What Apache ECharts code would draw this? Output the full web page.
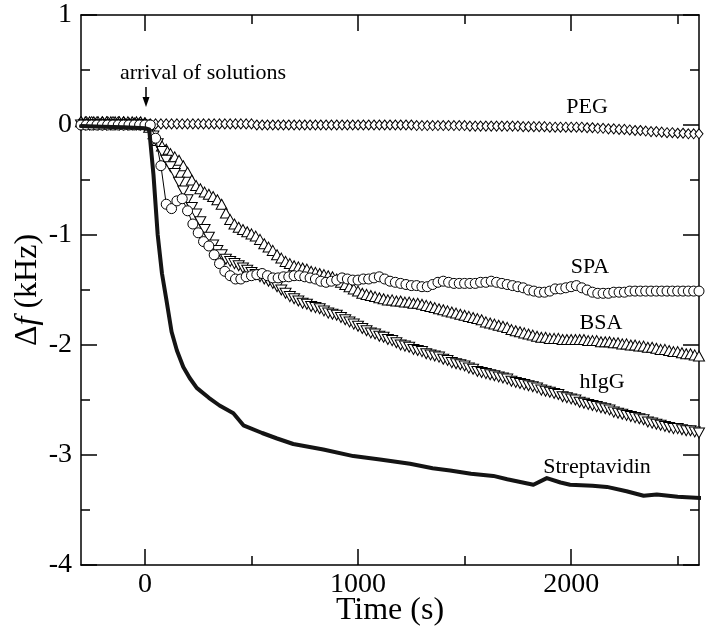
<!DOCTYPE html>
<html><head><meta charset="utf-8">
<script src="https://cdn.jsdelivr.net/npm/echarts@6/dist/echarts.min.js"></script>
<style>html,body{margin:0;padding:0;background:#fff}#c{width:708px;height:630px}</style>
</head><body><div id="c"></div>
<script>
// ---- data ----
const xMajorTicks = [0, 1000, 2000];
const xMinorTicks = [500, 1500, 2500];

// PEG (diamonds), sampled every 25 s from -300 s
const pegStart = -300, pegStep = 25;
const pegValues = [
  0.03,0.03,0.03,0.03,0.03,0.03,0.03,0.03,0.03,0.02,0.02,0.02,0.02,
  0.01,0.01,0.01,0.01,0.01,0.01,0.01,0.01,0.01,0.01,0.01,0.01,0.01,0.01,0.01,0.01,0.01,0.01,0.01,0.01,
  0.0,0.0,0.0,0.0,0.0,0.0,0.0,0.0,0.0,0.0,0.0,0.0,0.0,0.0,0.0,0.0,0.0,0.0,0.0,0.0,
  0.0,0.0,0.0,0.0,0.0,0.0,0.0,0.0,0.0,0.0,-0.005,-0.005,-0.005,-0.005,-0.005,-0.005,-0.005,-0.005,-0.005,-0.005,
  -0.01,-0.01,-0.01,-0.01,-0.01,-0.01,-0.01,-0.01,-0.01,-0.01,-0.015,-0.015,-0.015,-0.015,-0.015,-0.02,-0.02,-0.02,-0.02,-0.02,
  -0.02,-0.02,-0.025,-0.025,-0.03,-0.03,-0.035,-0.035,-0.04,-0.04,-0.045,-0.05,-0.05,-0.055,-0.06,-0.06,-0.065,-0.07,-0.07,-0.075,
  -0.075,-0.08,-0.08,-0.08
];

// SPA (circles), sampled every 25 s from -300 s
const spaStart = -300, spaStep = 25;
const spaValues = [
  0.0,0.0,0.0,0.0,0.0,0.0,0.0,0.0,0.0,0.0,0.0,0.0,0.0,
  0.0,-0.12,-0.37,-0.72,
  -0.76,-0.69,-0.67,-0.78,
  -0.90,-0.98,-1.06,-1.10,
  -1.18,-1.26,-1.33,-1.37,
  -1.40,-1.40,-1.38,-1.37,
  -1.36,-1.35,-1.37,-1.39,
  -1.39,-1.38,-1.38,-1.37,
  -1.37,-1.38,-1.39,-1.40,
  -1.42,-1.43,-1.42,-1.41,
  -1.39,-1.40,-1.41,-1.41,
  -1.40,-1.40,-1.39,-1.38,
  -1.40,-1.42,-1.43,-1.44,
  -1.45,-1.46,-1.46,-1.47,
  -1.47,-1.45,-1.43,-1.42,
  -1.43,-1.44,-1.44,-1.44,
  -1.44,-1.44,-1.43,-1.43,
  -1.42,-1.43,-1.44,-1.45,
  -1.46,-1.47,-1.48,-1.50,
  -1.51,-1.52,-1.52,-1.51,
  -1.49,-1.49,-1.48,-1.47,
  -1.46,-1.48,-1.50,-1.52,
  -1.53,-1.53,-1.53,-1.52,
  -1.52,-1.52,-1.51,-1.51,
  -1.51,-1.51,-1.51,-1.51,
  -1.51,-1.51,-1.51,-1.51,
  -1.51,-1.51,-1.51,-1.51
];

// BSA (up triangles), sampled every 20 s from -300 s
const bsaStart = -300, bsaStep = 20;
const bsaValues = [
  0.03,0.03,0.03,0.03,0.03,0.03,0.03,0.03,0.03,0.03,0.03,0.03,0.03,0.03,0.03,0.02,
  -0.02,-0.08,-0.14,-0.19,-0.22,
  -0.26,-0.29,-0.32,-0.37,-0.43,
  -0.50,-0.55,-0.58,-0.61,-0.63,
  -0.65,-0.68,-0.72,-0.80,-0.86,
  -0.90,-0.93,-0.95,-0.97,-0.99,
  -1.01,-1.04,-1.08,-1.11,-1.14,
  -1.18,-1.21,-1.24,-1.26,-1.28,
  -1.29,-1.30,-1.31,-1.33,-1.34,
  -1.35,-1.36,-1.37,-1.38,-1.40,
  -1.43,-1.45,-1.47,-1.49,-1.51,
  -1.53,-1.54,-1.55,-1.56,-1.57,
  -1.58,-1.59,-1.59,-1.60,-1.60,
  -1.61,-1.61,-1.62,-1.62,-1.63,
  -1.64,-1.65,-1.66,-1.67,-1.68,
  -1.69,-1.70,-1.71,-1.72,-1.73,
  -1.74,-1.75,-1.76,-1.77,-1.79,
  -1.80,-1.81,-1.82,-1.83,-1.84,
  -1.86,-1.87,-1.88,-1.89,-1.90,
  -1.91,-1.92,-1.93,-1.93,-1.94,
  -1.94,-1.94,-1.95,-1.95,-1.95,
  -1.95,-1.95,-1.95,-1.96,-1.96,
  -1.96,-1.97,-1.97,-1.97,-1.98,
  -1.98,-1.99,-1.99,-2.00,-2.00,
  -2.01,-2.01,-2.02,-2.02,-2.03,
  -2.04,-2.04,-2.05,-2.06,-2.06,
  -2.07,-2.08,-2.08,-2.09,-2.10
];

// hIgG (down triangles), sampled every 20 s from -300 s
const higgStart = -300, higgStep = 20;
const higgValues = [
  0.0,0.0,0.0,0.0,0.0,0.0,0.0,0.0,0.0,0.0,0.0,0.0,0.0,0.0,0.0,0.0,
  -0.03,-0.10,-0.17,-0.24,-0.32,
  -0.38,-0.44,-0.52,-0.60,-0.68,
  -0.75,-0.81,-0.88,-0.95,-1.02,
  -1.09,-1.14,-1.18,-1.22,-1.24,
  -1.26,-1.28,-1.30,-1.32,-1.34,
  -1.36,-1.38,-1.40,-1.42,-1.44,
  -1.47,-1.50,-1.53,-1.56,-1.58,
  -1.60,-1.62,-1.63,-1.65,-1.66,
  -1.67,-1.69,-1.71,-1.72,-1.73,
  -1.75,-1.77,-1.79,-1.81,-1.83,
  -1.85,-1.87,-1.89,-1.90,-1.92,
  -1.93,-1.95,-1.96,-1.98,-2.00,
  -2.01,-2.02,-2.04,-2.05,-2.06,
  -2.08,-2.09,-2.10,-2.11,-2.13,
  -2.14,-2.16,-2.17,-2.18,-2.19,
  -2.21,-2.22,-2.24,-2.25,-2.26,
  -2.27,-2.28,-2.29,-2.30,-2.31,
  -2.33,-2.34,-2.35,-2.36,-2.37,
  -2.38,-2.39,-2.41,-2.42,-2.43,
  -2.44,-2.45,-2.47,-2.48,-2.49,
  -2.50,-2.52,-2.53,-2.54,-2.55,
  -2.56,-2.57,-2.58,-2.59,-2.61,
  -2.62,-2.63,-2.64,-2.65,-2.66,
  -2.67,-2.68,-2.70,-2.71,-2.72,
  -2.73,-2.74,-2.75,-2.76,-2.76,
  -2.77,-2.78,-2.78,-2.79,-2.80
];

// Streptavidin (thick line)
const streptTime = [-300,-200,-100,0,20,40,60,80,100,125,150,180,210,243,300,350,415,462,550,620,696,837,978,1103,1244,1350,1432,1530,1635,1700,1823,1886,1950,1995,2100,2168,2260,2340,2402,2500,2606];
const streptValues = [-0.01,-0.015,-0.02,-0.03,-0.04,-0.45,-1.0,-1.35,-1.58,-1.88,-2.05,-2.2,-2.3,-2.39,-2.48,-2.55,-2.62,-2.73,-2.8,-2.85,-2.9,-2.95,-3.01,-3.04,-3.08,-3.12,-3.14,-3.17,-3.19,-3.22,-3.27,-3.21,-3.25,-3.27,-3.28,-3.29,-3.33,-3.37,-3.36,-3.38,-3.39];

const seriesLabels = ['PEG', 'SPA', 'BSA', 'hIgG', 'Streptavidin'];
const annotationText = 'arrival of solutions';

// ---- build ----
const FONT = '"Liberation Serif", "Times New Roman", serif';
const sampled = (start, step, vals) => vals.map((v, i) => [start + i * step, v]);
const paired = (ts, vs) => ts.map((t, i) => [t, vs[i]]);

const markerSeries = (name, data, symbol, size, rotate, z) => ({
  type: 'line', name, data, symbol, symbolSize: size, symbolRotate: rotate || 0,
  showSymbol: true, showAllSymbol: true, clip: false, z,
  itemStyle: { color: '#fff', borderColor: '#000', borderWidth: 1 },
  lineStyle: { color: '#000', width: 1 },
  emphasis: { disabled: true }, silent: true, animation: false
});

const baseX = { type: 'value', min: -300, max: 2600, gridIndex: 0,
  splitLine: { show: false }, axisLabel: { show: false } };

const chart = echarts.init(document.getElementById('c'), null, { renderer: 'canvas' });
chart.setOption({
  backgroundColor: '#fff',
  animation: false,
  grid: { left: 81, right: 9, top: 15, bottom: 65, containLabel: false, outerBoundsMode: 'none' },
  xAxis: [
    Object.assign({}, baseX, { position: 'bottom',
      axisLine: { show: true, onZero: false, lineStyle: { color: '#000', width: 1.5 } },
      axisTick: { show: true, inside: true, length: 16, customValues: xMajorTicks, lineStyle: { color: '#000', width: 1.5 } },
      axisLabel: { show: true, customValues: xMajorTicks, margin: 6, color: '#000', fontFamily: FONT, fontSize: 28,
        formatter: v => String(v) },
      name: 'Time (s)', nameLocation: 'middle', nameGap: 30, nameMoveOverlap: false,
      nameTextStyle: { color: '#000', fontFamily: FONT, fontSize: 32 } }),
    Object.assign({}, baseX, { position: 'bottom',
      axisLine: { show: false, onZero: false },
      axisTick: { show: true, inside: true, length: 9, customValues: xMinorTicks, lineStyle: { color: '#000', width: 1.5 } } }),
    Object.assign({}, baseX, { position: 'top',
      axisLine: { show: true, onZero: false, lineStyle: { color: '#000', width: 1.5 } },
      axisTick: { show: true, inside: true, length: 16, customValues: xMajorTicks, lineStyle: { color: '#000', width: 1.5 } } }),
    Object.assign({}, baseX, { position: 'top',
      axisLine: { show: false, onZero: false },
      axisTick: { show: true, inside: true, length: 9, customValues: xMinorTicks, lineStyle: { color: '#000', width: 1.5 } } })
  ],
  yAxis: [
    { type: 'value', min: -4, max: 1, interval: 1, position: 'left',
      splitLine: { show: false },
      axisLine: { show: true, onZero: false, lineStyle: { color: '#000', width: 1.5 } },
      axisTick: { show: true, inside: true, length: 16, lineStyle: { color: '#000', width: 1.5 } },
      minorTick: { show: true, splitNumber: 2, length: 9, lineStyle: { color: '#000', width: 1.5 } },
      minorSplitLine: { show: false },
      axisLabel: { show: true, margin: 9, color: '#000', fontFamily: FONT, fontSize: 28, formatter: v => String(v) },
      name: '{a|Δ}{b|f}{a| (kHz)}', nameLocation: 'middle', nameGap: 37, nameRotate: 90, nameMoveOverlap: false,
      nameTextStyle: { color: '#000', fontFamily: FONT, fontSize: 32,
        rich: { a: { fontFamily: FONT, fontSize: 32, color: '#000' },
                b: { fontFamily: FONT, fontSize: 32, fontStyle: 'italic', color: '#000' } } } },
    { type: 'value', min: -4, max: 1, interval: 1, position: 'right',
      splitLine: { show: false },
      axisLine: { show: true, onZero: false, lineStyle: { color: '#000', width: 1.5 } },
      axisTick: { show: true, inside: true, length: 16, lineStyle: { color: '#000', width: 1.5 } },
      minorTick: { show: true, splitNumber: 2, length: 9, lineStyle: { color: '#000', width: 1.5 } },
      axisLabel: { show: false } }
  ],
  series: [
    markerSeries('PEG', sampled(pegStart, pegStep, pegValues), 'diamond', [8, 10], 0, 2),
    markerSeries('BSA', sampled(bsaStart, bsaStep, bsaValues), 'triangle', [11, 10], 0, 3),
    markerSeries('hIgG', sampled(higgStart, higgStep, higgValues), 'triangle', [11, 10], 180, 4),
    markerSeries('SPA', sampled(spaStart, spaStep, spaValues), 'circle', 10, 0, 5),
    { type: 'line', name: 'Streptavidin', data: paired(streptTime, streptValues),
      symbol: 'none', clip: true, z: 6, silent: true, animation: false,
      lineStyle: { color: '#141414', width: 4, join: 'round', cap: 'round' } }
  ],
  graphic: [
    { type: 'text', x: 203, y: 73, z: 20,
      style: { text: annotationText, fill: '#000', font: '22px ' + FONT, textAlign: 'center', textVerticalAlign: 'middle' } },
    { type: 'line', z: 20, shape: { x1: 146, y1: 87, x2: 146, y2: 100 }, style: { stroke: '#000', lineWidth: 1.5 } },
    { type: 'polygon', z: 20, shape: { points: [[142.5, 97], [149.5, 97], [146, 107]] }, style: { fill: '#000' } },
    { type: 'text', x: 587, y: 107, z: 20, style: { text: seriesLabels[0], fill: '#000', font: '22px ' + FONT, textAlign: 'center', textVerticalAlign: 'middle' } },
    { type: 'text', x: 590, y: 267, z: 20, style: { text: seriesLabels[1], fill: '#000', font: '22px ' + FONT, textAlign: 'center', textVerticalAlign: 'middle' } },
    { type: 'text', x: 601, y: 323, z: 20, style: { text: seriesLabels[2], fill: '#000', font: '22px ' + FONT, textAlign: 'center', textVerticalAlign: 'middle' } },
    { type: 'text', x: 602, y: 382, z: 20, style: { text: seriesLabels[3], fill: '#000', font: '22px ' + FONT, textAlign: 'center', textVerticalAlign: 'middle' } },
    { type: 'text', x: 597, y: 467, z: 20, style: { text: seriesLabels[4], fill: '#000', font: '22px ' + FONT, textAlign: 'center', textVerticalAlign: 'middle' } }
  ]
});
</script></body></html>
